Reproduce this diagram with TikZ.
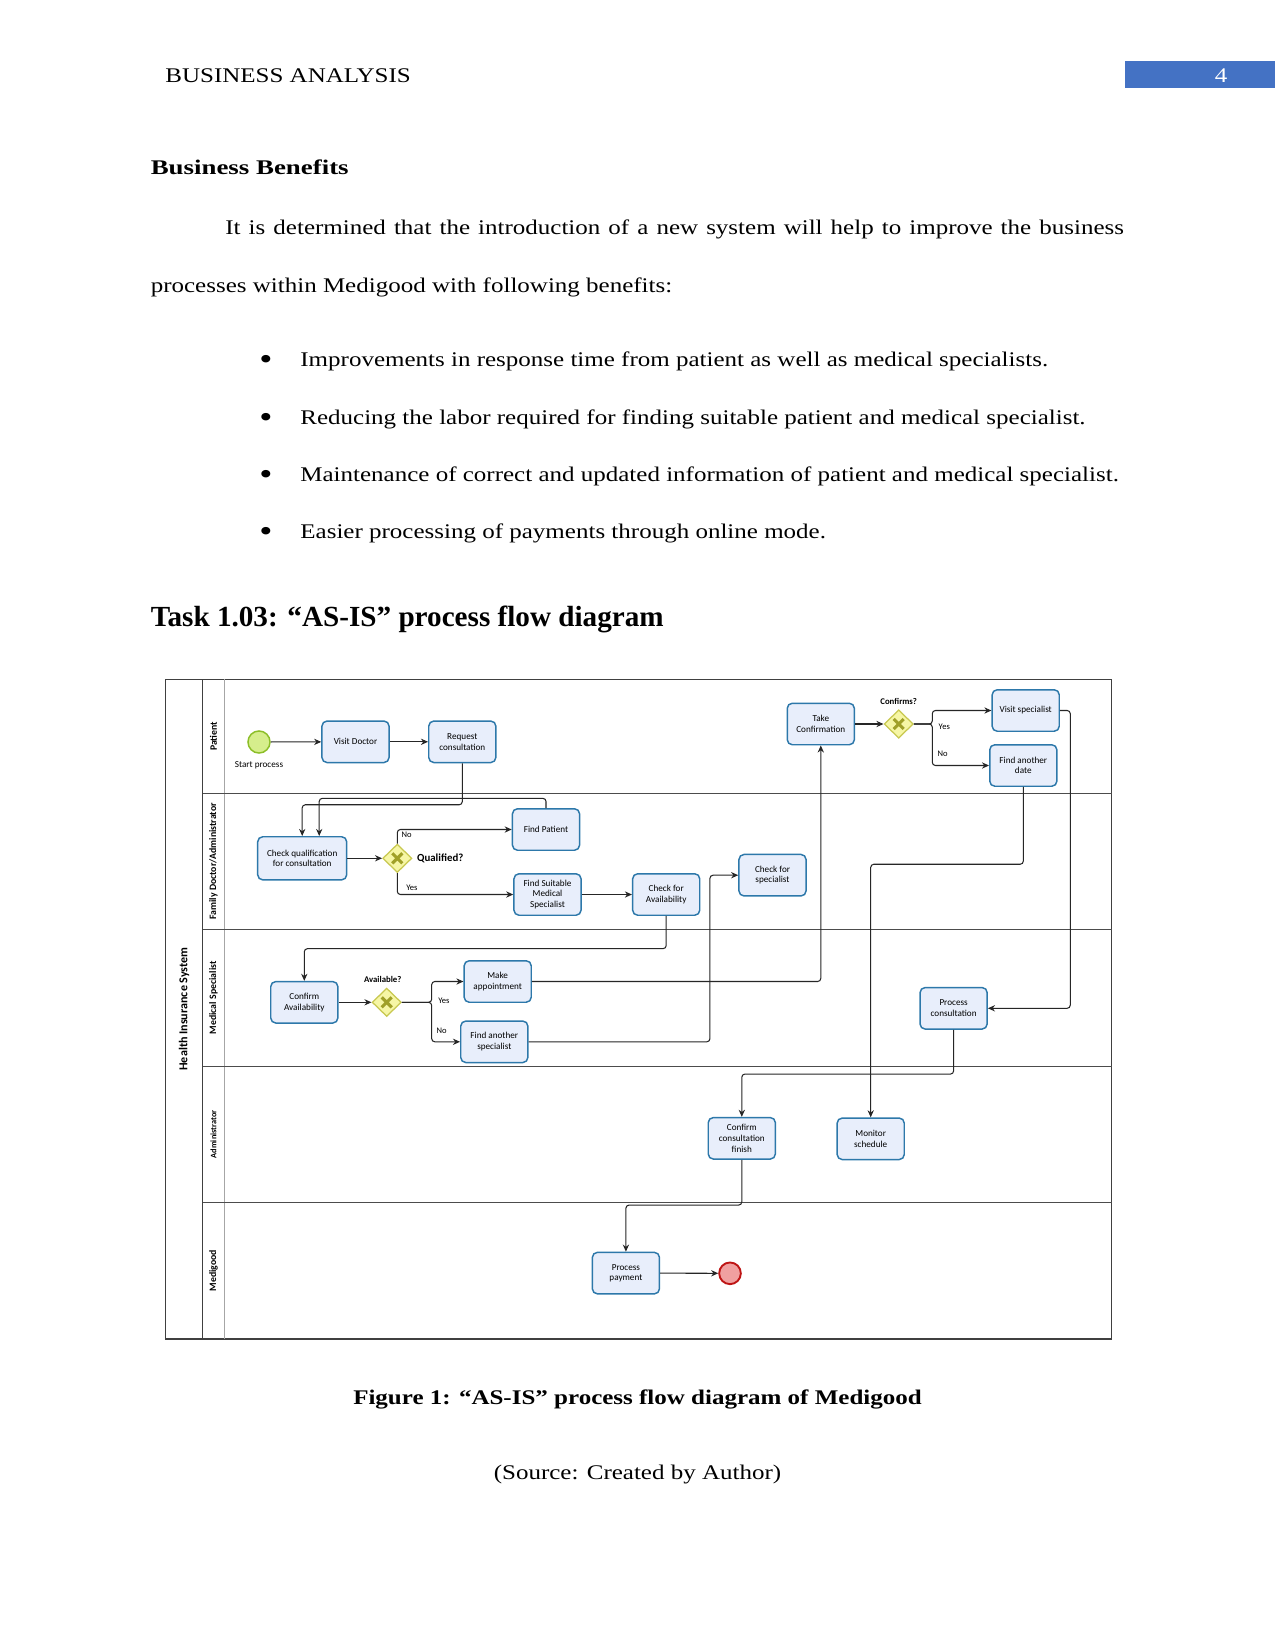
\documentclass[tikz,border=0pt]{standalone}
\usepackage{fontspec}
\setmainfont{Liberation Serif}[FakeStretch=1.2]
\newfontfamily\headfont{Liberation Serif}
\newfontfamily\bbfont{Liberation Serif}[FakeStretch=1.29]
\newfontfamily\dfont{Carlito}
\usetikzlibrary{shapes.geometric,arrows.meta,calc}
\definecolor{taskfill}{RGB}{232,238,251}
\definecolor{taskdraw}{RGB}{45,120,170}
\definecolor{gwfill}{RGB}{246,246,165}
\definecolor{gwdraw}{RGB}{200,200,80}
\definecolor{gwx}{RGB}{160,160,40}
\definecolor{startfill}{RGB}{214,238,140}
\definecolor{startdraw}{RGB}{140,190,40}
\definecolor{endfill}{RGB}{240,160,160}
\definecolor{enddraw}{RGB}{190,20,20}
\definecolor{headblue}{RGB}{68,114,196}
\newcommand\boxfont{\dfont\fontsize{4.4}{5.1}\selectfont}
\newcommand\smallfont{\dfont\fontsize{4.1}{5}\selectfont}
\newcommand\lanefont{\dfont\bfseries\fontsize{4.7}{5}\selectfont}
\begin{document}
\begin{tikzpicture}[x=0.48pt,y=-0.48pt,
  task/.style={rectangle, rounded corners=2.4pt, draw=taskdraw, line width=0.7pt, fill=taskfill,
    minimum width=32.2pt, minimum height=19.9pt, align=center, font=\boxfont, inner sep=0.5pt},
  gw/.style={diamond, draw=gwdraw, fill=gwfill, line width=0.6pt, minimum width=14pt, minimum height=13.6pt,
    inner sep=0pt, path picture={
      \draw[gwx, line width=1.5pt] (path picture bounding box.center) ++(-2.4pt,-2.4pt) -- ++(4.8pt,4.8pt)
        (path picture bounding box.center) ++(-2.4pt,2.4pt) -- ++(4.8pt,-4.8pt);}},
  startev/.style={circle, draw=startdraw, fill=startfill, line width=0.7pt, minimum size=10.6pt, inner sep=0pt},
  endev/.style={circle, draw=enddraw, fill=endfill, line width=0.9pt, minimum size=10.4pt, inner sep=0pt},
  flow/.style={draw=black!85, line width=0.5pt, rounded corners=1.5pt, -{Stealth[length=3.4pt,width=3pt]}},
  lbl/.style={font=\smallfont, inner sep=0pt},
  gwlbl/.style={font=\dfont\bfseries\fontsize{4.2}{5}\selectfont, inner sep=0pt},
  body/.style={anchor=base west, inner sep=0pt},
  bullet/.style={anchor=base, inner sep=0pt, font=\fontsize{15}{15}\selectfont},
  lane/.style={draw=black!70, line width=0.5pt},
  lanelbl/.style={rotate=90, font=\lanefont, inner sep=0pt}
]
\fill[white] (0,0) rectangle (1275,1650);
\useasboundingbox (0,0) rectangle (1275,1650);

% ---------- page text ----------
\node[body] (hdr) at (165,83) {BUSINESS ANALYSIS};
\fill[headblue] (1125,61) rectangle (1275,88.4);
\node[anchor=base, inner sep=0pt, text=white] (pg) at (1221,83) {4};
\node[body, font=\bbfont\bfseries] (bb) at (150.4,174.5) {Business Benefits};
\node[body] (p1) at (225,235) {\makebox[431.3pt][s]{It is determined that the introduction of a new system will help to improve the business}};
\node[body] (p2) at (150.4,293) {processes within Medigood with following benefits:};
\node[bullet] (b1) at (266,369.5) {•};
\node[body] (t1) at (300,366.5) {Improvements in response time from patient as well as medical specialists.};
\node[bullet] (b2) at (266,427.5) {•};
\node[body] (t2) at (300,424.5) {Reducing the labor required for finding suitable patient and medical specialist.};
\node[bullet] (b3) at (266,484.5) {•};
\node[body] (t3) at (300,481.5) {Maintenance of correct and updated information of patient and medical specialist.};
\node[bullet] (b4) at (266,541.5) {•};
\node[body] (t4) at (300,538.5) {Easier processing of payments through online mode.};
\node[body, font=\headfont\fontsize{14}{16}\selectfont\bfseries] (task) at (150.4,626) {Task 1.03: “AS-IS” process flow diagram};
\node[anchor=base, inner sep=0pt, font=\bfseries] (cap) at (637.5,1404) {Figure 1: “AS-IS” process flow diagram of Medigood};
\node[anchor=base, inner sep=0pt] (src) at (637.5,1479) {(Source: Created by Author)};

% ---------- pool and lanes ----------
\draw[draw=black!75, line width=0.6pt] (165.3,679.3) rectangle (1111.7,1339);
\draw[draw=black!75, line width=0.6pt] (202.7,679.3) -- (202.7,1339);
\draw[draw=black!35, line width=0.4pt] (224.3,679.3) -- (224.3,1339);
\foreach \yy in {793.3,929.3,1066.3,1202.3} \draw[lane] (202.7,\yy) -- (1111.7,\yy);
\node[rotate=90, font=\dfont\bfseries\fontsize{5.8}{6}\selectfont, inner sep=0pt] (pool) at (184,1009) {Health Insurance System};
\node[lanelbl] (l1) at (213.5,736.3) {Patient};
\node[lanelbl] (l2) at (213.5,861.3) {Family Doctor/Administrator};
\node[lanelbl] (l3) at (213.5,997.8) {Medical Specialist};
\node[lanelbl, font=\dfont\bfseries\fontsize{4.0}{5}\selectfont] (l4) at (213.5,1134.3) {Administrator};
\node[lanelbl] (l5) at (213.5,1270.7) {Medigood};

% ---------- nodes ----------
\node[startev] (start) at (259,742) {};
\node[lbl, font=\boxfont] (startlbl) at (259,765) {Start process};
\node[task] (visit) at (355.5,741.8) {Visit Doctor};
\node[task] (request) at (462.3,741.8) {Request\\consultation};
\node[task, minimum width=42.7pt, minimum height=20.7pt] (check) at (302.2,858.3) {Check qualification\\for consultation};
\node[gw] (gq) at (397.3,858.3) {};
\node[gwlbl, font=\dfont\bfseries\fontsize{5.2}{6}\selectfont, anchor=west] (gqlbl) at (416.7,858.3) {Qualified?};
\node[task] (fp) at (546,829.5) {Find Patient};
\node[task] (fs) at (547.5,894.5) {Find Suitable\\Medical\\Specialist};
\node[task] (ca) at (666.2,894.5) {Check for\\Availability};
\node[task] (chs) at (772.5,875.2) {Check for\\specialist};
\node[task] (tc) at (820.8,724) {Take\\Confirmation};
\node[gw] (gc) at (898.7,724) {};
\node[gwlbl] (gclbl) at (898.7,701) {Confirms?};
\node[task] (vs) at (1025.7,710.5) {Visit specialist};
\node[task] (fad) at (1023.3,765.5) {Find another\\date};
\node[task] (cav) at (304.3,1002.3) {Confirm\\Availability};
\node[gw] (ga) at (386.7,1002.3) {};
\node[gwlbl] (galbl) at (382.7,979.3) {Available?};
\node[task] (make) at (497.7,981.5) {Make\\appointment};
\node[task] (fas) at (494.3,1041.8) {Find another\\specialist};
\node[task] (pc) at (953.6,1008.3) {Process\\consultation};
\node[task] (ccf) at (741.8,1138.3) {Confirm\\consultation\\finish};
\node[task] (ms) at (870.7,1138.8) {Monitor\\schedule};
\node[task] (pp) at (625.9,1273.1) {Process\\payment};
\node[endev] (end) at (730,1273.3) {};

% ---------- connectors ----------
\coordinate (asplit) at (431.7,1002.3);
\coordinate (csplit) at (932.3,724);
\draw[flow] (start) -- (visit);
\draw[flow] (visit) -- (request);
\draw[flow] (request.south) -- ++(0,41.5) -| (check.north);
\draw[flow] (fp.north) -- ++(0,-9.7) -| ($(check.north)+(17,0)$);
\draw[flow] (check) -- (gq);
\draw[flow] (gq.north) |- (fp.west);
\draw[flow] (gq.south) |- (fs.west);
\node[lbl] (qno) at (406.7,835) {No};
\node[lbl] (qyes) at (412,887.7) {Yes};
\draw[flow] (fs) -- (ca);
\draw[flow] (ca.south) -- ++(0,32.7) -| (cav.north);
\draw[flow] (cav) -- (ga);
\draw[flow] (ga.east) -- (asplit) |- (make.west);
\draw[flow] (ga.east) -- (asplit) |- (fas.west);
\node[lbl] (ayes) at (444,1000.3) {Yes};
\node[lbl] (ano) at (441.7,1030.3) {No};
\draw[flow] (make.east) -| (tc.south);
\draw[flow] (fas.east) -| ($(chs.west)+(-28.3,0)$) -- (chs.west);
\draw[flow] (tc) -- (gc);
\draw[flow] (gc.east) -- (csplit) |- (vs.west);
\draw[flow] (gc.east) -- (csplit) |- (fad.west);
\node[lbl] (cyes) at (944.3,726.7) {Yes};
\node[lbl] (cno) at (942.7,753.3) {No};
\draw[flow] (vs.east) -- ++(10.3,0) |- (pc.east);
\draw[flow] (fad.south) -- ++(0,77.3) -| (ms.north);
\draw[flow] (pc.south) -- ++(0,44.3) -| (ccf.north);
\draw[flow] (ccf.south) -- ++(0,45.3) -| (pp.north);
\draw[flow] (pp) -- (end);
\end{tikzpicture}
\end{document}
